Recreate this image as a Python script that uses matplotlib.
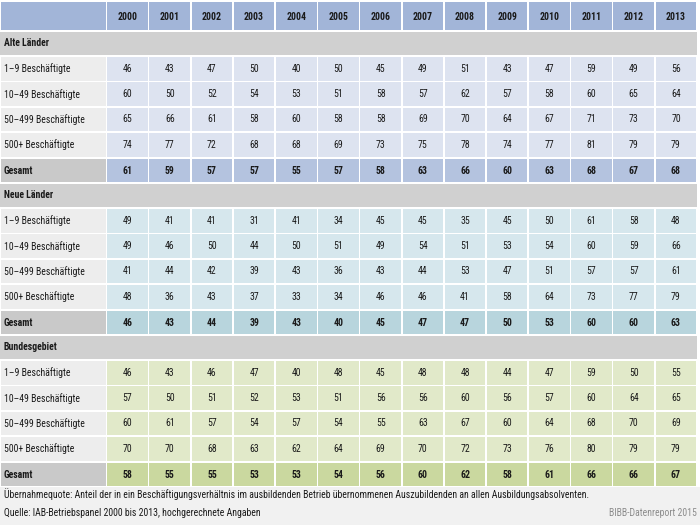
import matplotlib
matplotlib.use("Agg")
import matplotlib.pyplot as plt
from matplotlib.patches import Rectangle
from matplotlib import font_manager

# choose a narrow font if available
cands = []
for f in font_manager.fontManager.ttflist:
    n = f.name
    if ("Narrow" in n or "Condensed" in n) and "Mono" not in n:
        cands.append(n)
pref = ["Liberation Sans Narrow", "DejaVu Sans Condensed", "Roboto Condensed", "Open Sans Condensed"]
fam = None
for p in pref:
    if p in cands:
        fam = p
        break
if fam is None and cands:
    fam = sorted(set(cands))[0]
stretch = "normal"
if fam is None:
    for f in font_manager.fontManager.ttflist:
        if f.name in ("DejaVu Sans", "Open Sans", "Noto Sans", "Roboto") and f.stretch in ("condensed", "semi-condensed"):
            fam = f.name
            stretch = f.stretch
            break
if fam is None:
    fam = "Liberation Sans"
plt.rcParams['font.family'] = [fam, 'DejaVu Sans']
plt.rcParams['font.stretch'] = stretch

years = [2000, 2001, 2002, 2003, 2004, 2005, 2006, 2007, 2008, 2009, 2010, 2011, 2012, 2013]
row_labels = ["1–9 Beschäftigte", "10–49 Beschäftigte", "50–499 Beschäftigte", "500+ Beschäftigte"]
sections = ["Alte Länder", "Neue Länder", "Bundesgebiet"]

alte_1_9 = [46, 43, 47, 50, 40, 50, 45, 49, 51, 43, 47, 59, 49, 56]
alte_10_49 = [60, 50, 52, 54, 53, 51, 58, 57, 62, 57, 58, 60, 65, 64]
alte_50_499 = [65, 66, 61, 58, 60, 58, 58, 69, 70, 64, 67, 71, 73, 70]
alte_500 = [74, 77, 72, 68, 68, 69, 73, 75, 78, 74, 77, 81, 79, 79]
alte_gesamt = [61, 59, 57, 57, 55, 57, 58, 63, 66, 60, 63, 68, 67, 68]

neue_1_9 = [49, 41, 41, 31, 41, 34, 45, 45, 35, 45, 50, 61, 58, 48]
neue_10_49 = [49, 46, 50, 44, 50, 51, 49, 54, 51, 53, 54, 60, 59, 66]
neue_50_499 = [41, 44, 42, 39, 43, 36, 43, 44, 53, 47, 51, 57, 57, 61]
neue_500 = [48, 36, 43, 37, 33, 34, 46, 46, 41, 58, 64, 73, 77, 79]
neue_gesamt = [46, 43, 44, 39, 43, 40, 45, 47, 47, 50, 53, 60, 60, 63]

bund_1_9 = [46, 43, 46, 47, 40, 48, 45, 48, 48, 44, 47, 59, 50, 55]
bund_10_49 = [57, 50, 51, 52, 53, 51, 56, 56, 60, 56, 57, 60, 64, 65]
bund_50_499 = [60, 61, 57, 54, 57, 54, 55, 63, 67, 60, 64, 68, 70, 69]
bund_500 = [70, 70, 68, 63, 62, 64, 69, 70, 72, 73, 76, 80, 79, 79]
bund_gesamt = [58, 55, 55, 53, 53, 54, 56, 60, 62, 58, 61, 66, 66, 67]

footnote = ("Übernahmequote: Anteil der in ein Beschäftigungsverhältnis im ausbildenden Betrieb "
            "übernommenen Auszubildenden an allen Ausbildungsabsolventen.")
source = "Quelle: IAB-Betriebspanel 2000 bis 2013, hochgerechnete Angaben"
credit = "BIBB-Datenreport 2015"

blocks = [
    ([alte_1_9, alte_10_49, alte_50_499, alte_500], alte_gesamt, "#dde3f0", "#b4c3df"),
    ([neue_1_9, neue_10_49, neue_50_499, neue_500], neue_gesamt, "#d6e7ed", "#b8d5dd"),
    ([bund_1_9, bund_10_49, bund_50_499, bund_500], bund_gesamt, "#e1e9c9", "#cad89f"),
]

fig = plt.figure(figsize=(7, 5.25), dpi=100)
ax = fig.add_axes([0, 0, 1, 1])
ax.set_xlim(0, 700)
ax.set_ylim(525, 0)
ax.axis("off")

# fit font size so the footnote spans about as wide as in the reference
renderer = fig.canvas.get_renderer()
probe = ax.text(0, 0, footnote, fontsize=10)
w10 = probe.get_window_extent(renderer).width
probe.remove()
FS = min(8.6, 10 * 582 / w10)

HEADER_C = "#a2b5d8"
SECTION_C = "#d0d0d0"
LABEL_C = "#ededed"
GES_LABEL_C = "#c9c9c9"
TXT = "#1a1a1a"

label_w = 106
x0 = 106.5
col_w = (697 - x0) / len(years)
g = 0.8  # half gap


def cell(x, y, w, h, c):
    ax.add_patch(Rectangle((x + g, y + g), w - 2 * g, h - 2 * g, facecolor=c, edgecolor="none"))


# footnote background
ax.add_patch(Rectangle((0, 487), 700, 38, facecolor="#f1f1f1", edgecolor="none"))

# header
cell(0, 1.5, label_w + 0.5, 29.5, HEADER_C)
for i, yr in enumerate(years):
    cx = x0 + i * col_w
    cell(cx, 1.5, col_w, 29.5, HEADER_C)
    ax.text(cx + col_w / 2, 16.5, str(yr), ha="center", va="center", fontsize=FS, fontweight="bold", color=TXT)

row_h = 25.4
for b, (rows, ges, dc, gc) in enumerate(blocks):
    by = 32 + b * 152
    ax.add_patch(Rectangle((0, by), 697, 22.5, facecolor=SECTION_C, edgecolor="none"))
    ax.text(4, by + 11.5, sections[b], ha="left", va="center", fontsize=FS, fontweight="bold", color=TXT)
    ry0 = by + 24
    for r, vals in enumerate(rows):
        ry = ry0 + r * row_h
        cell(0, ry, label_w + 0.5, row_h, LABEL_C)
        ax.text(4, ry + row_h / 2, row_labels[r], ha="left", va="center", fontsize=FS, color=TXT)
        for i, v in enumerate(vals):
            cx = x0 + i * col_w
            cell(cx, ry, col_w, row_h, dc)
            ax.text(cx + col_w / 2, ry + row_h / 2, str(v), ha="center", va="center", fontsize=FS, color=TXT)
    gy = ry0 + 4 * row_h + 0.5
    gh = 25
    cell(0, gy, label_w + 0.5, gh, GES_LABEL_C)
    ax.text(4, gy + gh / 2, "Gesamt", ha="left", va="center", fontsize=FS, fontweight="bold", color=TXT)
    for i, v in enumerate(ges):
        cx = x0 + i * col_w
        cell(cx, gy, col_w, gh, gc)
        ax.text(cx + col_w / 2, gy + gh / 2, str(v), ha="center", va="center", fontsize=FS, fontweight="bold", color=TXT)

ax.text(4, 494, footnote, ha="left", va="center", fontsize=FS, color=TXT)
ax.text(4, 512.5, source, ha="left", va="center", fontsize=FS, color=TXT)
ax.text(697, 512.5, credit, ha="right", va="center", fontsize=FS, color="#8c8c8c")

fig.savefig("out.png", dpi=100)
